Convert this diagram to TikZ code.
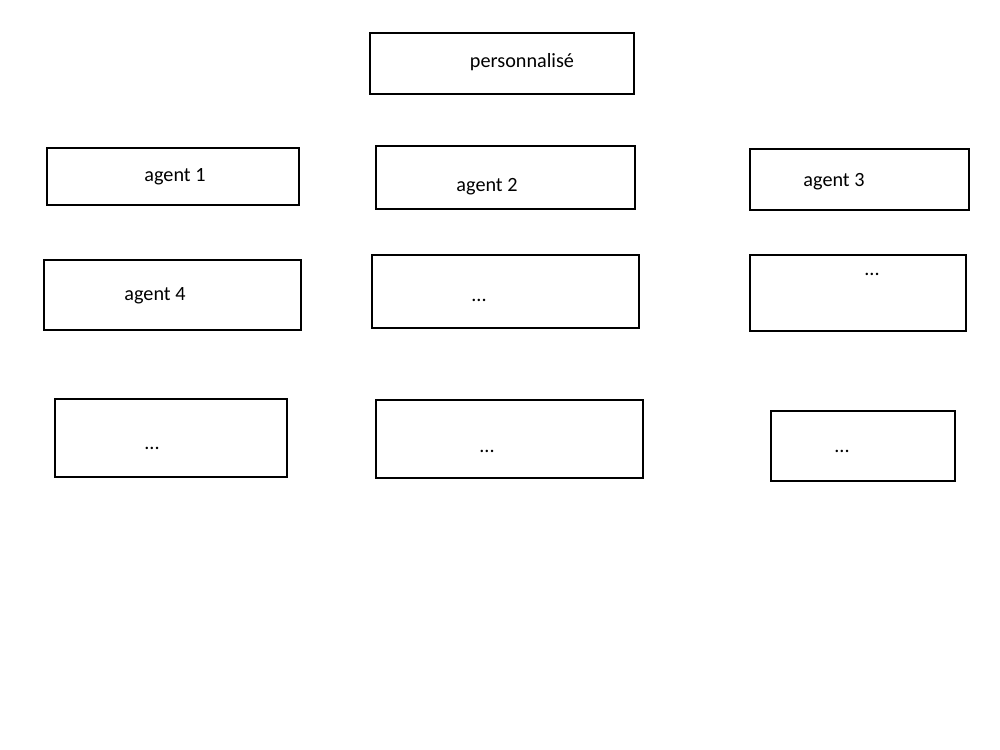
\documentclass[tikz,border=0pt]{standalone}
\usepackage{fontspec}
\setmainfont{Carlito}
\tikzset{
  box/.style={draw=black, line width=1.1pt},
  lbl/.style={inner sep=0pt, yshift=-0.05cm, font=\fontsize{11.5}{13}\selectfont}
}
\begin{document}
\begin{tikzpicture}[x=0.02cm, y=-0.02cm]
\useasboundingbox (0,0) rectangle (1000,750);
\draw[box] (370,33) rectangle (634,94); \node[lbl] (perso) at (522,60) {personnalisé};
\draw[box] (47,148) rectangle (299,205); \node[lbl] (agA) at (175,174) {agent 1};
\draw[box] (376,146) rectangle (635,209); \node[lbl] (agB) at (487,184) {agent 2};
\draw[box] (750,149) rectangle (969,210); \node[lbl] (agC) at (834,179) {agent 3};
\draw[box] (44,260) rectangle (301,330); \node[lbl] (agD) at (155,293) {agent 4};
\draw[box] (372,255) rectangle (639,328); \node[lbl] (dotsA) at (479,298) {...};
\draw[box] (750,255) rectangle (966,331); \node[lbl] (dotsB) at (872,272) {...};
\draw[box] (55,399) rectangle (287,477); \node[lbl] (dotsC) at (152,446) {...};
\draw[box] (376,400) rectangle (643,478); \node[lbl] (dotsD) at (487,449) {...};
\draw[box] (771,411) rectangle (955,481); \node[lbl] (dotsE) at (842,449) {...};
\end{tikzpicture}
\end{document}
